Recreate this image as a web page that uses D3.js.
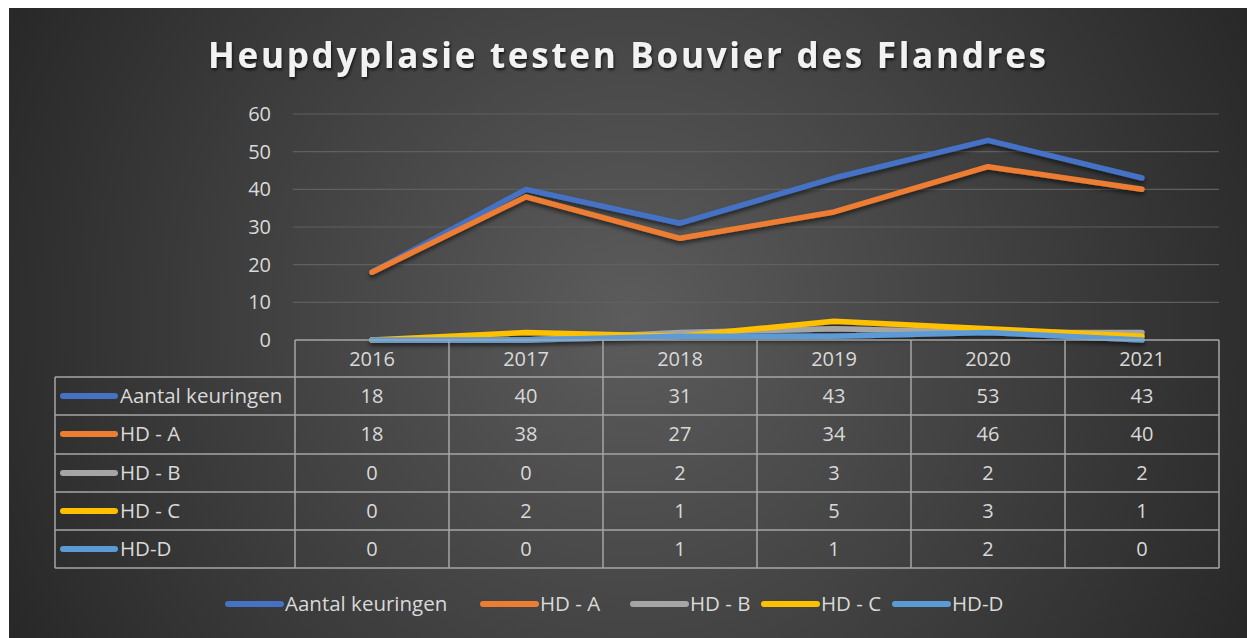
<!DOCTYPE html>
<html>
<head>
<meta charset="utf-8">
<script src="https://cdn.jsdelivr.net/npm/d3@7"></script>
<style>
  body { margin: 0; background: #fff; }
  text { font-family: "Open Sans", Lato, sans-serif; }
</style>
</head>
<body>
<div id="canvas"></div>
<script>
(function(){

    var years = ["2016", "2017", "2018", "2019", "2020", "2021"];
    var seriesNames = ["Aantal keuringen", "HD - A", "HD - B", "HD - C", "HD-D"];
    var aantal = [18, 40, 31, 43, 53, 43];
    var hdA = [18, 38, 27, 34, 46, 40];
    var hdB = [0, 0, 2, 3, 2, 2];
    var hdC = [0, 2, 1, 5, 3, 1];
    var hdD = [0, 0, 1, 1, 2, 0];
    var yTicks = [0, 10, 20, 30, 40, 50, 60];
    var colors = ["#4472C4", "#ED7D31", "#A5A5A5", "#FFC000", "#5B9BD5"];

    var values = [aantal, hdA, hdB, hdC, hdD];

    var W = 1247, H = 638;
    var svg = d3.select("#canvas")
        .append("svg")
        .attr("width", W)
        .attr("height", H);

    var defs = svg.append("defs");
    var grad = defs.append("radialGradient")
        .attr("id", "bg")
        .attr("gradientUnits", "userSpaceOnUse")
        .attr("cx", 630).attr("cy", 320).attr("r", 720);
    grad.append("stop").attr("offset", "0%").attr("stop-color", "#5c5c5c");
    grad.append("stop").attr("offset", "100%").attr("stop-color", "#262626");

    var shadow = defs.append("filter").attr("id", "shadow")
        .attr("x", "-10%").attr("y", "-20%").attr("width", "120%").attr("height", "160%");
    shadow.append("feDropShadow")
        .attr("dx", 0).attr("dy", 3).attr("stdDeviation", 2)
        .attr("flood-color", "#000").attr("flood-opacity", 0.55);

    var tshadow = defs.append("filter").attr("id", "tshadow");
    tshadow.append("feDropShadow")
        .attr("dx", 1).attr("dy", 2).attr("stdDeviation", 1.5)
        .attr("flood-color", "#000").attr("flood-opacity", 0.7);

    // background
    svg.append("rect")
        .attr("x", 9).attr("y", 8)
        .attr("width", W - 9).attr("height", H - 8)
        .attr("fill", "url(#bg)");

    // title
    svg.append("text")
        .attr("x", 208).attr("y", 68)
        .attr("font-family", "Lato, sans-serif")
        .attr("font-size", 35)
        .attr("font-weight", "bold")
        .attr("textLength", 838)
        .attr("lengthAdjust", "spacing")
        .attr("fill", "#f2f2f2")
        .attr("filter", "url(#tshadow)")
        .text("Heupdyplasie testen Bouvier des Flandres");

    var x = d3.scaleBand().domain(years).range([295, 1219]);
    var y = d3.scaleLinear().domain([0, 60]).range([340, 114]);

    // gridlines
    svg.append("g")
        .selectAll("line")
        .data(yTicks.filter(function(t){ return t > 0; }))
        .join("line")
        .attr("x1", 293).attr("x2", 1219)
        .attr("y1", function(d){ return y(d); })
        .attr("y2", function(d){ return y(d); })
        .attr("stroke", "#5f5f5f")
        .attr("stroke-width", 1.2);

    // y axis labels
    var yAxis = d3.axisLeft(y).tickValues(yTicks).tickSize(0).tickPadding(0);
    var yg = svg.append("g").attr("transform", "translate(271,0)").call(yAxis);
    yg.select(".domain").remove();
    yg.selectAll("text")
        .attr("font-size", 20)
        .attr("fill", "#d9d9d9")
        .attr("font-family", "'Open Sans', sans-serif");

    // lines
    var line = d3.line()
        .x(function(d, i){ return x(years[i]) + x.bandwidth() / 2; })
        .y(function(d){ return y(d); });

    var lg = svg.append("g").attr("filter", "url(#shadow)");
    values.forEach(function(v, k){
        lg.append("path")
            .attr("d", line(v))
            .attr("fill", "none")
            .attr("stroke", colors[k])
            .attr("stroke-width", 5.5)
            .attr("stroke-linecap", "round")
            .attr("stroke-linejoin", "round");
    });

    // data table
    var rowTop = [377, 415, 454, 492, 530];
    var rowH = 38.2;
    var tableLeft = 55, tableRight = 1219, headTop = 340, tableBottom = 568;
    var tg = svg.append("g");
    var gridCol = "#a6a6a6";

    // horizontal lines
    tg.append("line").attr("x1", 295).attr("x2", tableRight)
        .attr("y1", headTop).attr("y2", headTop)
        .attr("stroke", gridCol).attr("stroke-width", 1.5);
    rowTop.concat([tableBottom]).forEach(function(ry){
        tg.append("line").attr("x1", tableLeft).attr("x2", tableRight)
            .attr("y1", ry).attr("y2", ry)
            .attr("stroke", gridCol).attr("stroke-width", 1.5);
    });
    // vertical lines
    tg.append("line").attr("x1", tableLeft).attr("x2", tableLeft)
        .attr("y1", rowTop[0]).attr("y2", tableBottom)
        .attr("stroke", gridCol).attr("stroke-width", 1.5);
    years.forEach(function(yr){
        tg.append("line").attr("x1", x(yr)).attr("x2", x(yr))
            .attr("y1", headTop).attr("y2", tableBottom)
            .attr("stroke", gridCol).attr("stroke-width", 1.5);
    });
    tg.append("line").attr("x1", tableRight).attr("x2", tableRight)
        .attr("y1", headTop).attr("y2", tableBottom)
        .attr("stroke", gridCol).attr("stroke-width", 1.5);

    // header years
    tg.selectAll("text.yr")
        .data(years)
        .join("text")
        .attr("class", "yr")
        .attr("x", function(d){ return x(d) + x.bandwidth() / 2; })
        .attr("y", (headTop + rowTop[0]) / 2 + 7)
        .attr("text-anchor", "middle")
        .attr("font-size", 20)
        .attr("fill", "#d9d9d9")
        .text(function(d){ return d; });

    // rows
    values.forEach(function(v, k){
        var cy = rowTop[k] + rowH / 2;
        tg.append("line")
            .attr("x1", 63).attr("x2", 115)
            .attr("y1", cy).attr("y2", cy)
            .attr("stroke", colors[k])
            .attr("stroke-width", 6)
            .attr("stroke-linecap", "round");
        tg.append("text")
            .attr("x", 120).attr("y", cy + 7)
            .attr("font-size", 20.5)
            .attr("fill", "#d9d9d9")
            .text(seriesNames[k]);
        tg.selectAll("text.v" + k)
            .data(v)
            .join("text")
            .attr("class", "v" + k)
            .attr("x", function(d, i){ return x(years[i]) + x.bandwidth() / 2; })
            .attr("y", cy + 7)
            .attr("text-anchor", "middle")
            .attr("font-size", 20)
            .attr("fill", "#d9d9d9")
            .text(function(d){ return d; });
    });

    // legend
    var legX = [228, 483, 633, 764, 895];
    var leg = svg.append("g");
    seriesNames.forEach(function(name, k){
        leg.append("line")
            .attr("x1", legX[k]).attr("x2", legX[k] + 53)
            .attr("y1", 604).attr("y2", 604)
            .attr("stroke", colors[k])
            .attr("stroke-width", 6)
            .attr("stroke-linecap", "round");
        leg.append("text")
            .attr("x", legX[k] + 57).attr("y", 611)
            .attr("font-size", 20.5)
            .attr("fill", "#d9d9d9")
            .text(name);
    });

})();
</script>
</body>
</html>
